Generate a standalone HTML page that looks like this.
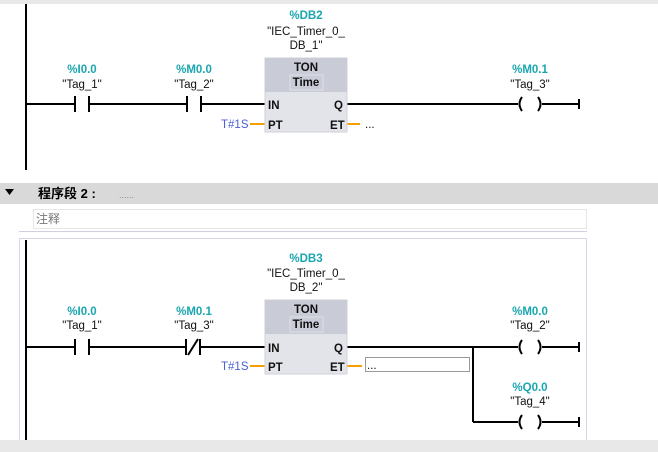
<!DOCTYPE html>
<html><head><meta charset="utf-8"><style>
html,body{margin:0;padding:0;width:658px;height:452px;overflow:hidden;background:#fff}
svg{display:block}
text{font-family:"Liberation Sans","Noto Sans CJK SC",sans-serif;font-size:11.5px}
.a{fill:#1aa6b0;font-weight:bold;text-anchor:middle}
.t{fill:#111;text-anchor:middle}
.p{fill:#111;font-weight:bold}
.b{fill:#4a5fd0}
</style></head><body>
<svg width="658" height="452" viewBox="0 0 658 452">
<rect x="0" y="0" width="658" height="4" fill="#e8e8e8"/>
<!-- Network 1 -->
<rect x="25" y="4" width="2" height="166" fill="#000"/>
<g stroke="#000" stroke-width="2" fill="none">
<line x1="26" y1="104" x2="75" y2="104"/>
<line x1="75" y1="96" x2="75" y2="112"/><line x1="89" y1="96" x2="89" y2="112"/>
<line x1="89" y1="104" x2="187" y2="104"/>
<line x1="187" y1="96" x2="187" y2="112"/><line x1="201" y1="96" x2="201" y2="112"/>
<line x1="201" y1="104" x2="265" y2="104"/>
<line x1="347" y1="104" x2="518" y2="104"/>
<path d="M522 97 Q517 104 522 111"/><path d="M538 97 Q543 104 538 111"/>
<line x1="542" y1="104" x2="579" y2="104"/><line x1="579" y1="99" x2="579" y2="109"/>
</g>
<g stroke="#f5a000" stroke-width="2"><line x1="250" y1="124" x2="265" y2="124"/><line x1="347" y1="124" x2="360" y2="124"/></g>
<rect x="265" y="58" width="82" height="74" fill="#e3e4ea" stroke="#d0d1da"/>
<rect x="265" y="58" width="82" height="34" fill="#c9cbd6"/>
<rect x="290" y="75" width="33" height="15" fill="none" stroke="#e0e1e8"/>
<text x="306" y="71" class="t" style="font-weight:bold">TON</text>
<text x="306" y="86" class="t" style="font-weight:bold">Time</text>
<text x="268" y="109" class="p">IN</text><text x="334" y="109" class="p">Q</text>
<text x="268" y="129" class="p">PT</text><text x="330" y="129" class="p">ET</text>
<text x="221" y="128" class="b">T#1S</text>
<text x="365" y="128" fill="#111">...</text>
<text x="306" y="19" class="a">%DB2</text>
<text x="306" y="35" class="t">"IEC_Timer_0_</text>
<text x="306" y="49" class="t">DB_1"</text>
<text x="82" y="73" class="a">%I0.0</text><text x="82" y="88" class="t">"Tag_1"</text>
<text x="194" y="73" class="a">%M0.0</text><text x="194" y="88" class="t">"Tag_2"</text>
<text x="530" y="73" class="a">%M0.1</text><text x="530" y="88" class="t">"Tag_3"</text>
<!-- header -->
<rect x="0" y="183" width="658" height="21" fill="#d9d9d9"/>
<polygon points="5,189 14,189 9.5,195" fill="#000"/>
<text x="38" y="198" style="font-weight:bold;font-size:13px" fill="#000">程序段 2 :</text>
<text x="119" y="198" fill="#888" style="font-size:9px">......</text>
<rect x="33.5" y="209.5" width="553" height="19" fill="#fff" stroke="#e6e6e6"/>
<text x="36" y="223" fill="#777" style="font-size:12px">注释</text>
<line x1="19" y1="231.5" x2="587" y2="231.5" stroke="#d0d0e0"/>
<rect x="19.5" y="238.5" width="567" height="210" fill="#fff" stroke="#d6d6ea"/>
<!-- Network 2 -->
<rect x="25" y="240" width="2" height="200" fill="#000"/>
<g stroke="#000" stroke-width="2" fill="none">
<line x1="26" y1="347" x2="75" y2="347"/>
<line x1="75" y1="339" x2="75" y2="355"/><line x1="89" y1="339" x2="89" y2="355"/>
<line x1="89" y1="347" x2="186" y2="347"/>
<line x1="186" y1="339" x2="186" y2="355"/><line x1="200" y1="339" x2="200" y2="355"/>
<line x1="188" y1="355" x2="198" y2="339"/>
<line x1="200" y1="347" x2="265" y2="347"/>
<line x1="347" y1="347" x2="518" y2="347"/>
<path d="M522 340 Q517 347 522 354"/><path d="M538 340 Q543 347 538 354"/>
<line x1="542" y1="347" x2="579" y2="347"/><line x1="579" y1="342" x2="579" y2="352"/>
<line x1="473" y1="347" x2="473" y2="422"/>
<line x1="473" y1="422" x2="518" y2="422"/>
<path d="M522 415 Q517 422 522 429"/><path d="M538 415 Q543 422 538 429"/>
<line x1="542" y1="422" x2="579" y2="422"/><line x1="579" y1="417" x2="579" y2="427"/>
</g>
<g stroke="#f5a000" stroke-width="2"><line x1="250" y1="366" x2="265" y2="366"/><line x1="347" y1="366" x2="362" y2="366"/></g>
<rect x="365.5" y="357.5" width="104" height="14" fill="none" stroke="#333" stroke-dasharray="1,1"/>
<text x="367" y="369" fill="#111">...</text>
<rect x="265" y="300" width="82" height="74" fill="#e3e4ea" stroke="#d0d1da"/>
<rect x="265" y="300" width="82" height="34" fill="#c9cbd6"/>
<rect x="290" y="317" width="33" height="15" fill="none" stroke="#e0e1e8"/>
<text x="306" y="313" class="t" style="font-weight:bold">TON</text>
<text x="306" y="328" class="t" style="font-weight:bold">Time</text>
<text x="268" y="352" class="p">IN</text><text x="334" y="352" class="p">Q</text>
<text x="268" y="371" class="p">PT</text><text x="330" y="371" class="p">ET</text>
<text x="221" y="370" class="b">T#1S</text>
<text x="306" y="262" class="a">%DB3</text>
<text x="306" y="277" class="t">"IEC_Timer_0_</text>
<text x="306" y="291" class="t">DB_2"</text>
<text x="82" y="315" class="a">%I0.0</text><text x="82" y="329" class="t">"Tag_1"</text>
<text x="194" y="315" class="a">%M0.1</text><text x="194" y="329" class="t">"Tag_3"</text>
<text x="530" y="315" class="a">%M0.0</text><text x="530" y="329" class="t">"Tag_2"</text>
<text x="530" y="391" class="a">%Q0.0</text><text x="530" y="405" class="t">"Tag_4"</text>
<rect x="0" y="440" width="658" height="12" fill="#e8e8e8"/>
</svg>
</body></html>
